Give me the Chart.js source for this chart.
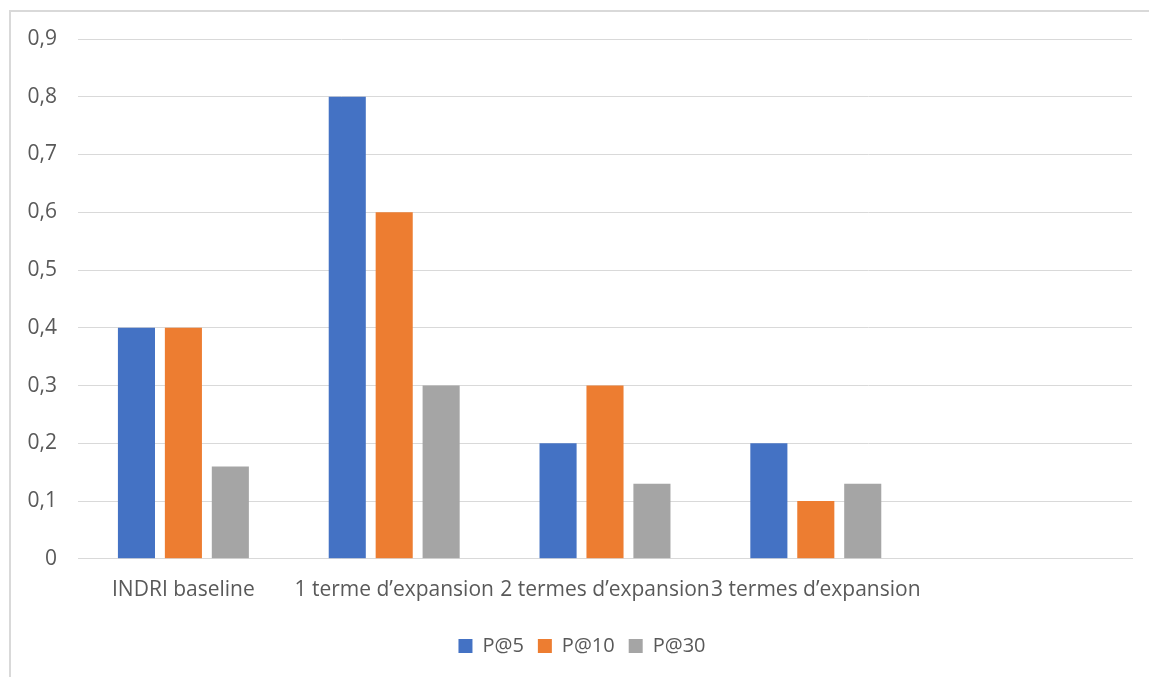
<!DOCTYPE html>
<html>
<head>
<meta charset="utf-8">
<script src="https://cdn.jsdelivr.net/npm/chart.js@4/dist/chart.umd.min.js"></script>
<style>
  html, body { margin: 0; padding: 0; background: #fff; overflow: hidden; }
  #frame {
    position: absolute; left: 9px; top: 10px; width: 1300px; height: 800px;
    border-left: 2px solid #d9d9d9; border-top: 2px solid #d9d9d9;
  }
  #wrap { position: absolute; left: 0; top: 0; width: 1149px; height: 677px; }
</style>
</head>
<body>
<div id="frame"></div>
<div id="wrap"><canvas id="chart"></canvas></div>
<script>
// categories (last slot is left empty)
const categories = ['INDRI baseline', '1 terme d\u2019expansion', '2 termes d\u2019expansion', '3 termes d\u2019expansion', ''];
const p5  = [0.4, 0.8, 0.2, 0.2, null];
const p10 = [0.4, 0.6, 0.3, 0.1, null];
const p30 = [0.16, 0.3, 0.13, 0.13, null];
const seriesNames = ['P@5', 'P@10', 'P@30'];
const colors = ['#4472C4', '#ED7D31', '#A5A5A5'];

const textColor = '#595959';
const fontFamily = '"Open Sans", sans-serif';

// nudge the legend a bit to the right of the canvas centre
const legendShift = {
  id: 'legendShift',
  afterLayout(chart) {
    chart.legend.left += 16;
    chart.legend.right += 16;
  }
};

const ctx = document.getElementById('chart');
new Chart(ctx, {
  type: 'bar',
  data: {
    labels: categories,
    datasets: [p5, p10, p30].map((d, i) => ({
      label: seriesNames[i],
      data: d,
      backgroundColor: colors[i],
      categoryPercentage: 0.668,
      barPercentage: 0.79
    }))
  },
  plugins: [legendShift],
  options: {
    responsive: true,
    maintainAspectRatio: false,
    animation: false,
    layout: { padding: { top: 39, right: 17, left: 0, bottom: 11 } },
    plugins: {
      tooltip: { enabled: false },
      legend: {
        position: 'bottom',
        labels: {
          color: textColor,
          font: { family: fontFamily, size: 20 },
          boxWidth: 14,
          boxHeight: 14,
          padding: 14
        }
      }
    },
    scales: {
      x: {
        afterFit: scale => { scale.height += 8; },
        grid: { display: false },
        border: { color: '#d9d9d9' },
        ticks: {
          color: textColor,
          font: { family: fontFamily, size: 21 },
          autoSkip: false,
          maxRotation: 0,
          minRotation: 0,
          padding: 11
        }
      },
      y: {
        min: 0,
        max: 0.9,
        afterFit: scale => { scale.width = 78; },
        border: { display: false },
        grid: { color: '#d9d9d9', lineWidth: 1, drawTicks: false },
        ticks: {
          stepSize: 0.1,
          padding: 21,
          color: textColor,
          font: { family: fontFamily, size: 21 },
          callback: v => String(Math.round(v * 10) / 10).replace('.', ',')
        }
      }
    }
  }
});
</script>
</body>
</html>
